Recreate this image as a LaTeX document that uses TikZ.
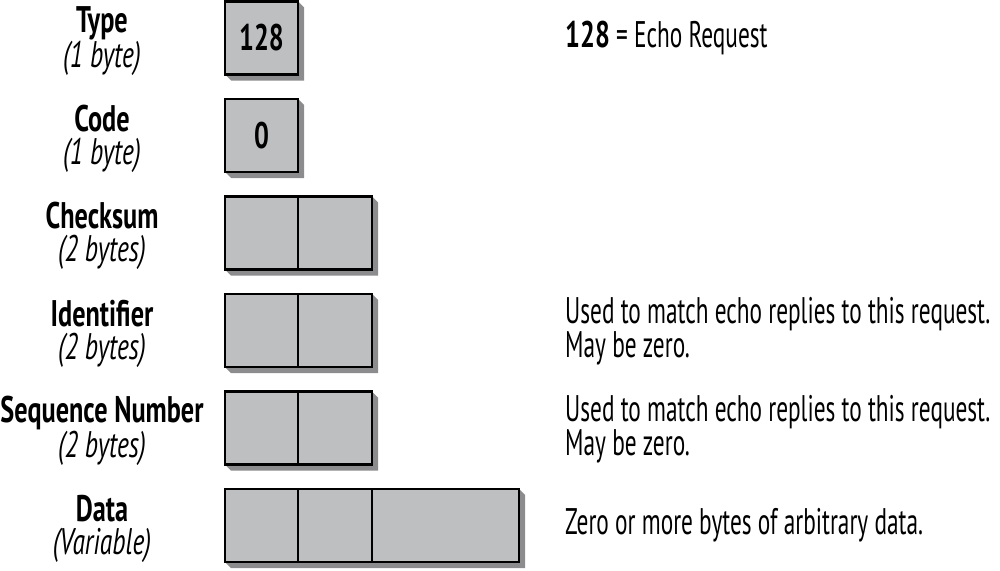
\documentclass[tikz,border=0pt]{standalone}
\usepackage{fontspec}
\setmainfont[FakeStretch=0.63,
  BoldFeatures={FakeStretch=0.71},
  ItalicFeatures={FakeStretch=0.69}]{PT Sans}
\usepackage{tikz}
\usetikzlibrary{calc}

\definecolor{cellgray}{RGB}{190,191,193}
\definecolor{shadowgray}{RGB}{140,140,142}

\tikzset{
  txt/.style={font=\fontsize{37}{33}\selectfont, inner sep=0pt},
  title/.style={txt, align=center},
  note/.style={txt, align=left, anchor=west},
  cell/.style={fill=cellgray, draw=black, line width=2.5pt},
  divider/.style={black, line width=2pt}
}

\begin{document}
\begin{tikzpicture}[x=1pt, y=-1pt]
    \useasboundingbox (0,0) rectangle (1000,570);

    % Árnyékok (jobbra lent, ferde sarokkal)
    \foreach \top/\right in {1.5/298, 99/298, 196.5/372, 294/372, 391.5/372, 489/519}
        \fill[shadowgray] (\right,\top) -- ++(6,6) -- ++(0,73) -- (231,\top+79) -- (225,\top+73) -- cycle;

    % Mezők
    \draw[cell] (225,1.5) rectangle (298,74.5);
    \draw[cell] (225,99) rectangle (298,172);
    \draw[cell] (225,196.5) rectangle (372,269.5);
    \draw[cell] (225,294) rectangle (372,367);
    \draw[cell] (225,391.5) rectangle (372,464.5);
    \draw[cell] (225,489) rectangle (519,562);

    % Bájthatárok
    \draw[divider] (298,196.5) -- (298,269.5);
    \draw[divider] (298,294) -- (298,367);
    \draw[divider] (298,391.5) -- (298,464.5);
    \draw[divider] (298,489) -- (298,562);
    \draw[divider] (372,489) -- (372,562);

    % Értékek a mezőkben
    \node[txt, font=\fontsize{37}{33}\selectfont\bfseries] (typeval) at (261.5,38) {128};
    \node[txt, font=\fontsize{37}{33}\selectfont\bfseries] (codeval) at (261.5,135.5) {0};

    % Mezőnevek
    \node[title] (typename) at (102,41) {\textbf{Type}\\\textit{(1 byte)}};
    \node[title] (codename) at (102,138.5) {\textbf{Code}\\\textit{(1 byte)}};
    \node[title] (checkname) at (102,236) {\textbf{Checksum}\\\textit{(2 bytes)}};
    \node[title] (identname) at (102,333.5) {\textbf{Identifier}\\\textit{(2 bytes)}};
    \node[title] (seqname) at (102,431) {\textbf{Sequence Number}\\\textit{(2 bytes)}};
    \node[title] (dataname) at (102,528.5) {\textbf{Data}\\\textit{(Variable)}};

    % Megjegyzések
    \node[note] (typenote) at (565,38) {\textbf{128} = Echo Request};
    \node[note] (identnote) at (565,331.5) {Used to match echo replies to this request.\\May be zero.};
    \node[note] (seqnote) at (565,429) {Used to match echo replies to this request.\\May be zero.};
    \node[note] (datanote) at (565,525.5) {Zero or more bytes of arbitrary data.};
\end{tikzpicture}
\end{document}
